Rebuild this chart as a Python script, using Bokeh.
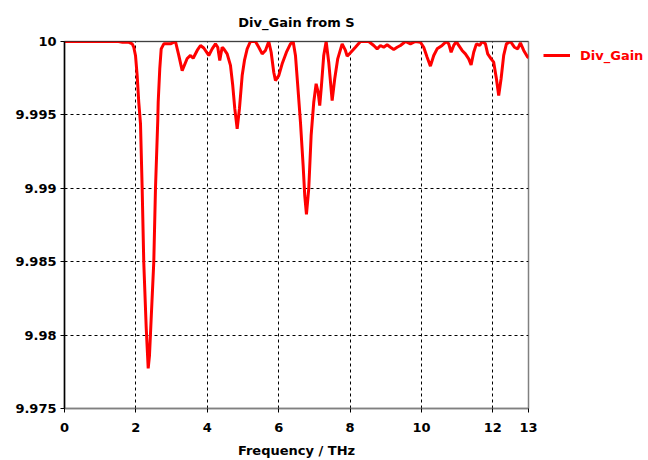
from bokeh.plotting import figure
from bokeh.models import FixedTicker, Span, Legend, LegendItem, Range1d
from bokeh.embed import file_html
from bokeh.resources import INLINE

freq = [0.0, 1.008, 1.513, 1.625, 1.793, 1.896, 1.941, 1.989, 2.036, 2.081, 2.129, 2.176,
        2.221, 2.289, 2.345, 2.381, 2.417, 2.501, 2.549, 2.613, 2.625, 2.669, 2.709, 2.782,
        2.969, 3.109, 3.202, 3.297, 3.437, 3.529, 3.605, 3.717, 3.810, 3.902, 4.042, 4.137,
        4.230, 4.294, 4.350, 4.417, 4.462, 4.557, 4.650, 4.714, 4.770, 4.838, 4.902, 4.978,
        5.042, 5.118, 5.210, 5.350, 5.443, 5.538, 5.630, 5.723, 5.790, 5.863, 5.910, 6.003,
        6.098, 6.218, 6.331, 6.406, 6.471, 6.535, 6.611, 6.686, 6.731, 6.779, 6.843, 6.910,
        6.983, 7.050, 7.106, 7.151, 7.199, 7.263, 7.331, 7.403, 7.499, 7.571, 7.655, 7.779,
        7.871, 7.919, 8.011, 8.151, 8.291, 8.524, 8.664, 8.759, 8.852, 8.944, 9.039, 9.132,
        9.224, 9.319, 9.412, 9.552, 9.692, 9.832, 9.972, 10.064, 10.160, 10.252, 10.345,
        10.440, 10.580, 10.700, 10.765, 10.832, 10.905, 10.980, 11.045, 11.140, 11.232,
        11.325, 11.392, 11.465, 11.541, 11.633, 11.700, 11.793, 11.857, 11.952, 12.025,
        12.101, 12.165, 12.232, 12.305, 12.381, 12.493, 12.605, 12.697, 12.773, 12.866,
        12.978, 13.0]

div_gain = [10.0, 10.0, 10.0, 9.99995, 9.99995, 9.99984, 9.99961, 9.99905, 9.99768, 9.99586,
            9.99441, 9.98999, 9.98495, 9.98052, 9.97773, 9.97861, 9.98052, 9.98495, 9.98999,
            9.99462, 9.99586, 9.99814, 9.99950, 9.99984, 9.99984, 10.0, 9.99905, 9.99802,
            9.99884, 9.99905, 9.99886, 9.99939, 9.99973, 9.99956, 9.99905, 9.99950, 9.99984,
            9.99961, 9.99871, 9.99961, 9.99950, 9.99916, 9.99837, 9.99700, 9.99544, 9.99405,
            9.99544, 9.99768, 9.99871, 9.99950, 10.0, 10.0, 9.99961, 9.99916, 9.99939, 10.0,
            9.99927, 9.99791, 9.99734, 9.99768, 9.99848, 9.99927, 9.99984, 10.0, 9.99905,
            9.99700, 9.99450, 9.99155, 9.98951, 9.98822, 9.98997, 9.99360, 9.99586, 9.99712,
            9.99655, 9.99564, 9.99700, 9.99905, 10.0, 9.99859, 9.99598, 9.99746, 9.99882,
            9.99984, 9.99939, 9.99900, 9.99923, 9.99961, 10.0, 10.0, 9.99973, 9.99950,
            9.99973, 9.99961, 9.99978, 9.99961, 9.99946, 9.99961, 9.99973, 10.0, 9.99984,
            10.0, 9.99995, 9.99961, 9.99893, 9.99832, 9.99905, 9.99950, 9.99973, 10.0,
            9.99984, 9.99927, 9.99973, 10.0, 9.99973, 9.99939, 9.99916, 9.99882, 9.99841,
            9.99927, 9.99984, 9.99973, 10.0, 9.99984, 9.99916, 9.99882, 9.99859, 9.99746,
            9.99632, 9.99746, 9.99905, 9.99984, 10.0, 9.99961, 9.99950, 9.99991, 9.99939,
            9.99893, 9.99891]

x_ticks = [0, 2, 4, 6, 8, 10, 12, 13]
y_ticks = [9.975, 9.98, 9.985, 9.99, 9.995, 10.0]
y_tick_labels = {9.975: "9.975", 9.98: "9.98", 9.985: "9.985", 9.99: "9.99", 9.995: "9.995", 10.0: "10"}

FONT = "DejaVu Sans"

p = figure(frame_width=464, frame_height=367, output_backend="svg", toolbar_location=None,
           x_range=Range1d(0, 13), y_range=Range1d(9.975, 10.0),
           title="Div_Gain from S", min_border_left=64, min_border_right=118,
           min_border_top=41, min_border_bottom=52)

p.background_fill_color = "white"
p.border_fill_color = "white"
p.outline_line_color = "#808080"
p.outline_line_width = 1.5

p.title.align = "center"
p.title.vertical_align = "bottom"
p.title.text_font = FONT
p.title.text_font_size = "13px"
p.title.text_font_style = "bold"
p.title.text_color = "black"
p.title.text_line_height = 0.4
p.title.standoff = 24

# axes
p.xaxis.ticker = FixedTicker(ticks=x_ticks)
p.yaxis.ticker = FixedTicker(ticks=y_ticks)
p.yaxis.major_label_overrides = y_tick_labels
p.xaxis.axis_label = "Frequency / THz"
for ax in (p.xaxis[0], p.yaxis[0]):
    ax.major_label_text_font = FONT
    ax.major_label_text_font_size = "13px"
    ax.major_label_text_font_style = "bold"
    ax.major_label_text_color = "black"
    ax.minor_tick_line_color = None
    ax.major_tick_in = 0
    ax.major_tick_out = 4
    ax.major_tick_line_color = "black"
p.xaxis.axis_line_color = "#808080"
p.xaxis.axis_line_width = 1.5
p.yaxis.axis_line_color = "black"
p.yaxis.axis_line_width = 1.5
p.xaxis.axis_label_text_font = FONT
p.xaxis.axis_label_text_font_size = "13px"
p.xaxis.axis_label_text_font_style = "bold"
p.xaxis.axis_label_text_color = "black"
p.xaxis.axis_label_standoff = 8
p.xaxis.major_label_standoff = 10
p.yaxis.major_label_standoff = 4

# grid
p.xgrid.ticker = FixedTicker(ticks=[2, 4, 6, 8, 10, 12])
p.ygrid.ticker = FixedTicker(ticks=[9.98, 9.985, 9.99, 9.995])
for g in (p.xgrid[0], p.ygrid[0]):
    g.grid_line_color = "black"
    g.grid_line_dash = "3 3"
    g.grid_line_width = 1

p.add_layout(Span(location=10.0, dimension="width", line_color="black", line_width=1.2))

r = p.line(freq, div_gain, line_color="#ff0000", line_width=3)

legend = Legend(items=[LegendItem(label="Div_Gain", renderers=[r])],
                location=(15, 339), padding=0, margin=0, spacing=0,
                glyph_width=27, glyph_height=28, label_height=28, label_standoff=10,
                border_line_color=None, background_fill_alpha=0,
                label_text_font=FONT, label_text_font_size="13px",
                label_text_font_style="bold", label_text_color="#ff0000")
p.add_layout(legend, "right")

open("out.html", "w").write(file_html(p, INLINE))
